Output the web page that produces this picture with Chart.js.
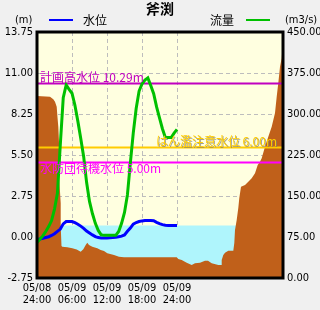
<!DOCTYPE html>
<html>
<head>
<meta charset="utf-8">
<script src="https://cdn.jsdelivr.net/npm/chart.js@4"></script>
<style>
  html, body { margin: 0; padding: 0; background: #f0f0f0; }
  #wrap { width: 320px; height: 310px; }
</style>
</head>
<body>
<div id="wrap"><canvas id="grafico" width="320" height="310"></canvas></div>
<script>
// 観測所
const stationName = '斧渕';

// 経過時間 (05/08 24:00 から, h)
const hours = [0, 0.5, 1, 1.5, 2, 2.5, 3, 3.5, 4, 4.5, 5, 5.5, 6, 6.5, 7, 7.5, 8, 8.5, 9, 9.5,
  10, 10.5, 11, 11.5, 12, 12.5, 13, 13.5, 14, 14.5, 15, 15.5, 16, 16.5, 17, 17.5, 18, 18.5, 19, 19.5,
  20, 20.5, 21, 21.5, 22, 22.5, 23, 23.5, 24];

// 水位 (m)
const waterLevel = [-0.18, -0.13, -0.08, -0.03, 0.02, 0.10, 0.22, 0.38, 0.53, 0.88, 1.04, 1.04, 1.04, 0.96, 0.86, 0.73, 0.58, 0.40, 0.27, 0.14,
  0.03, -0.04, -0.06, -0.07, -0.06, -0.05, -0.04, -0.02, 0.02, 0.06, 0.14, 0.38, 0.60, 0.86, 0.97, 1.04, 1.08, 1.11, 1.11, 1.11,
  1.09, 0.98, 0.90, 0.83, 0.79, 0.77, 0.77, 0.77, 0.77];

// 流量 (m3/s)
const flow = [65, 71, 77, 85, 94, 105, 126, 155, 245, 330, 353, 345, 338, 316, 287, 255, 222, 175, 140, 118,
  100, 87, 79, 78, 78, 78, 78, 78, 85, 100, 120, 152, 210, 265, 310, 342, 355, 362, 366, 352,
  337, 313, 293, 273, 257, 257, 257, 265, 272];

// 横断面 (距離, 標高 m)
const sectionDist = [0, 13, 16.3, 18, 19.7, 20.3, 21.3, 22, 22.3, 23.7, 23.7, 24.5, 25.3, 30.3, 35.3, 39.7, 43.7, 46.3, 48.7, 50.3,
  52, 55.3, 60.3, 63.7, 67, 70.3, 77, 82, 87, 139.7, 141.3, 144.7, 149.7, 154.7, 158, 163, 168, 171, 174.7, 181.3,
  184, 184.7, 186.3, 188, 191.3, 196.3, 197.3, 198, 199.7, 201.3, 202.3, 204, 208, 211.3, 214.7, 218, 220.7, 223, 224.7, 228,
  231.3, 234.7, 238, 239.7, 241.3, 243, 244.7, 246];
const sectionElev = [9.46, 9.41, 9.24, 9.07, 8.74, 8.18, 7.40, 6.30, 3.82, 2.28, 0.74, -0.60, -0.65, -0.69, -0.76, -0.84, -0.99, -0.82, -0.54, -0.38,
  -0.54, -0.65, -0.76, -0.87, -0.94, -1.09, -1.21, -1.32, -1.36, -1.36, -1.48, -1.54, -1.72, -1.88, -1.76, -1.72, -1.59, -1.59, -1.76, -1.88,
  -1.88, -1.54, -1.21, -1.05, -0.92, -0.92, -0.40, 0.47, 1.14, 1.95, 2.62, 3.37, 3.49, 3.71, 3.94, 4.27, 4.83, 5.05, 5.28, 6.06,
  6.73, 7.40, 8.32, 9.41, 10.33, 11.42, 11.99, 13.22];

// 基準水位
const levelNames = ['計画高水位', 'はん濫注意水位', '水防団待機水位'];
const levelValues = [10.29, 6.00, 5.00];

// 目盛
const leftTicks = [-2.75, 0, 2.75, 5.5, 8.25, 11, 13.75];
const rightTicks = [0, 75, 150, 225, 300, 375, 450];
const timeTicks = [0, 6, 12, 18, 24];
const timeLabels = ['05/08 24:00', '05/09 06:00', '05/09 12:00', '05/09 18:00', '05/09 24:00'];

// 見た目
const levelColors = ['#c000c0', '#ffcc00', '#ff00ff'];
const levelPlace = ['aboveLeft', 'aboveRight', 'belowLeft'];
const fuenteNum = "'DejaVu Sans Condensed', 'DejaVu Sans', sans-serif";
const fuenteJp = "'Noto Sans CJK JP', sans-serif";
const gris = '#bdbdbd';

const nivelActual = waterLevel[waterLevel.length - 1];
const distMax = sectionDist[sectionDist.length - 1];

const fondo = {
    id: 'fondo',
    beforeDraw(chart) {
        const { ctx, chartArea: a } = chart;
        ctx.save();
        ctx.fillStyle = '#ffffe0';
        ctx.fillRect(a.left, a.top, a.right - a.left, a.bottom - a.top);
        ctx.restore();
    }
};

const etiquetas = {
    id: 'etiquetas',
    afterDatasetsDraw(chart) {
        const { ctx, chartArea: a, scales } = chart;
        ctx.save();
        ctx.font = '12px ' + fuenteJp;
        levelValues.forEach((v, i) => {
            const py = scales.y.getPixelForValue(v);
            const txt = `${levelNames[i]} ${v.toFixed(2)}m`;
            ctx.fillStyle = levelColors[i];
            if (levelPlace[i] === 'aboveRight') {
                ctx.shadowColor = 'rgba(120,120,120,0.7)';
                ctx.shadowOffsetX = 1;
                ctx.shadowOffsetY = 1;
                ctx.textAlign = 'right';
                ctx.textBaseline = 'bottom';
                ctx.fillText(txt, a.right - 6, py);
                ctx.shadowColor = 'transparent';
            } else if (levelPlace[i] === 'aboveLeft') {
                ctx.textAlign = 'left';
                ctx.textBaseline = 'bottom';
                ctx.fillText(txt, a.left + 3, py);
            } else {
                ctx.textAlign = 'left';
                ctx.textBaseline = 'top';
                ctx.fillText(txt, a.left + 3, py);
            }
        });
        ctx.restore();
    }
};

const marco = {
    id: 'marco',
    afterDraw(chart) {
        const { ctx, chartArea: a } = chart;
        ctx.save();
        ctx.strokeStyle = '#000';
        ctx.lineWidth = 3;
        ctx.strokeRect(a.left, a.top, a.right - a.left, a.bottom - a.top);

        // título y leyenda
        ctx.fillStyle = '#000';
        ctx.textBaseline = 'middle';
        ctx.font = 'bold 14px ' + fuenteJp;
        ctx.textAlign = 'center';
        ctx.fillText(stationName, 160, 9);

        ctx.textAlign = 'left';
        ctx.font = '11px ' + fuenteNum;
        ctx.fillText('(m)', 15, 20);
        ctx.fillText('(m3/s)', 285, 20);
        ctx.font = '12px ' + fuenteJp;
        ctx.fillText('水位', 83, 20);
        ctx.fillText('流量', 210, 20);

        ctx.lineWidth = 2;
        ctx.strokeStyle = '#0000ff';
        ctx.beginPath(); ctx.moveTo(49, 20); ctx.lineTo(73, 20); ctx.stroke();
        ctx.strokeStyle = '#00c000';
        ctx.beginPath(); ctx.moveTo(246, 20); ctx.lineTo(270, 20); ctx.stroke();
        ctx.restore();
    }
};

const datasets = [
    {
        label: '流量',
        data: hours.map((h, i) => ({ x: h, y: flow[i] })),
        xAxisID: 'x', yAxisID: 'y2',
        borderColor: '#00c000', borderWidth: 3,
        pointRadius: 0, fill: false, order: 0
    },
    {
        label: '水位',
        data: hours.map((h, i) => ({ x: h, y: waterLevel[i] })),
        xAxisID: 'x', yAxisID: 'y',
        borderColor: '#0000ff', borderWidth: 3,
        pointRadius: 0, fill: false, order: 1
    },
    ...levelValues.map((v, i) => ({
        label: levelNames[i],
        data: [{ x: 0, y: v }, { x: distMax, y: v }],
        xAxisID: 'xd', yAxisID: 'y',
        borderColor: levelColors[i], borderWidth: 2,
        pointRadius: 0, fill: false, order: 2
    })),
    {
        label: '断面',
        data: sectionDist.map((d, i) => ({ x: d, y: sectionElev[i] })),
        xAxisID: 'xd', yAxisID: 'y',
        borderWidth: 0, borderColor: 'rgba(0,0,0,0)',
        backgroundColor: '#c0601a',
        pointRadius: 0, fill: 'start', order: 3
    },
    {
        label: '水面',
        data: [{ x: 20, y: nivelActual }, { x: 200, y: nivelActual }],
        xAxisID: 'xd', yAxisID: 'y',
        borderWidth: 0, borderColor: 'rgba(0,0,0,0)',
        backgroundColor: '#aff5fc',
        pointRadius: 0, fill: 'start', order: 4
    }
];

new Chart(document.getElementById('grafico'), {
    type: 'line',
    data: { datasets },
    options: {
        responsive: false,
        animation: false,
        devicePixelRatio: 1,
        layout: { padding: { top: 32, left: 0, right: 0, bottom: 0 } },
        plugins: {
            legend: { display: false },
            title: { display: false },
            tooltip: { enabled: false }
        },
        scales: {
            x: {
                type: 'linear', position: 'bottom',
                min: 0, max: 42.17,
                z: 1,
                afterBuildTicks: s => { s.ticks = timeTicks.map(v => ({ value: v })); },
                afterFit: s => { s.height = 32; },
                grid: { color: gris, drawTicks: false },
                border: { display: false, dash: [4, 3] },
                ticks: {
                    autoSkip: false, maxRotation: 0, padding: 4,
                    color: '#000',
                    font: { family: fuenteNum, size: 11, lineHeight: '12px' },
                    callback: (v, i) => timeLabels[i].split(' ')
                }
            },
            xd: {
                type: 'linear', display: false,
                min: 0, max: distMax
            },
            y: {
                position: 'left',
                min: -2.75, max: 13.75,
                afterBuildTicks: s => { s.ticks = leftTicks.map(v => ({ value: v })); },
                afterFit: s => { s.width = 37; },
                grid: { color: gris, drawTicks: false },
                border: { display: false, dash: [4, 3] },
                ticks: {
                    padding: 4, color: '#000',
                    font: { family: fuenteNum, size: 11 },
                    callback: v => v.toFixed(2)
                }
            },
            y2: {
                position: 'right',
                min: 0, max: 450,
                afterBuildTicks: s => { s.ticks = rightTicks.map(v => ({ value: v })); },
                afterFit: s => { s.width = 37; },
                grid: { drawOnChartArea: false, drawTicks: false },
                border: { display: false },
                ticks: {
                    padding: 4, color: '#000',
                    font: { family: fuenteNum, size: 11 },
                    callback: v => v.toFixed(2)
                }
            }
        }
    },
    plugins: [fondo, etiquetas, marco]
});
</script>
</body>
</html>
